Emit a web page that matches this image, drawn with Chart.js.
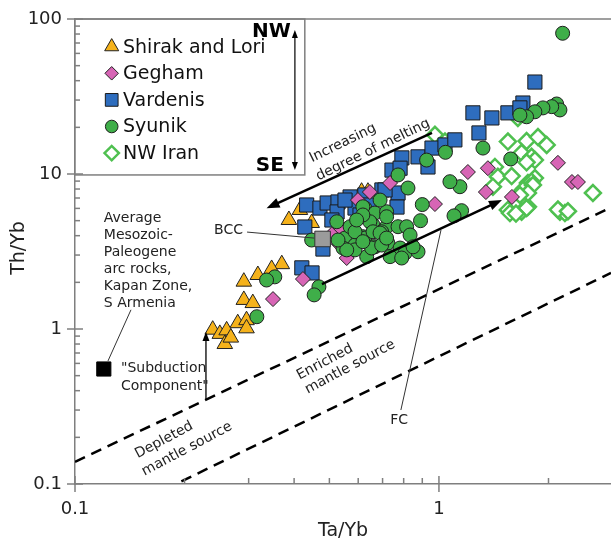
<!DOCTYPE html>
<html>
<head>
<meta charset="utf-8">
<script src="https://cdn.jsdelivr.net/npm/chart.js@4.4.0/dist/chart.umd.min.js"></script>
<style>
  html, body { margin: 0; padding: 0; background: #fff; }
  #wrap { width: 611px; height: 551px; }
</style>
</head>
<body>
<div id="wrap"><canvas id="chart" width="611" height="551"></canvas></div>
<script>
// [Ta/Yb, Th/Yb] pairs
const shirakLori = [[0.370,2.62],[0.347,2.44],[0.318,2.23],[0.291,2.02],[0.291,1.54],[0.308,1.47],[0.280,1.09],
  [0.296,1.14],[0.296,1.01],[0.239,0.99],[0.250,0.93],[0.261,0.98],[0.258,0.80],[0.268,0.88],[0.387,5.05],
  [0.447,4.83],[0.415,5.86],[0.613,7.69],[0.638,7.69]];

const gegham = [[0.350,1.56],[0.423,2.10],[0.558,2.87],[0.524,3.64],[0.512,4.16],[0.535,4.50],[0.599,6.79],
  [0.646,7.65],[0.734,8.75],[0.975,6.40],[1.201,10.3],[1.346,7.65],[1.363,10.9],[1.587,7.11],[2.123,11.8],
  [2.320,8.88],[2.409,8.88]];

const vardenis = [[0.433,6.31],[0.471,6.03],[0.493,6.50],[0.528,6.60],[0.570,7.11],[0.525,5.69],[0.428,4.55],
  [0.480,3.28],[0.508,5.05],[0.420,2.48],[0.448,2.30],[0.588,6.03],[0.743,10.6],[0.791,12.7],[0.772,7.54],
  [0.697,7.89],[0.782,10.9],[0.876,12.9],[0.933,11.1],[0.957,14.7],[1.039,15.4],[1.106,16.6],[1.240,24.8],
  [1.288,18.4],[1.835,39.2],[1.398,23.0],[1.547,24.8],[1.701,28.7],[1.669,26.7],[0.767,6.12],[0.711,7.89],
  [0.552,6.79],[0.626,7.32],[0.646,6.31],[0.607,5.44]];

const syunik = [[2.187,80.9],[2.106,28.3],[2.150,25.9],[2.041,27.2],[1.931,26.7],[1.835,25.2],[1.741,23.4],
  [1.669,24.0],[1.575,12.5],[1.321,14.7],[1.142,8.28],[1.072,8.92],[1.154,5.80],[1.100,5.37],[0.900,6.35],
  [1.042,13.8],[0.925,12.3],[0.772,9.86],[0.822,8.12],[0.890,5.00],
  [0.626,6.03],[0.667,5.60],[0.718,5.71],[0.689,6.79],[0.659,4.69],[0.718,4.57],[0.772,4.57],[0.696,4.24],
  [0.815,4.57],[0.833,4.04],[0.618,3.94],[0.667,3.39],[0.724,3.59],[0.782,3.33],[0.807,3.09],[0.876,3.15],
  [0.734,2.93],[0.633,2.93],[0.524,4.92],[0.618,6.15],[0.552,3.86],[0.588,3.48],[0.626,3.86],[0.545,3.33],
  [0.588,3.24],[0.447,3.75],[0.468,1.87],[0.454,1.66],[0.354,2.17],[0.336,2.07],[0.646,4.92],[0.570,4.57],
  [0.659,4.24],[0.659,3.39],[0.588,4.24],[0.618,5.44],[0.594,5.05],[0.689,4.16],[0.718,5.30],[0.558,3.24],
  [0.653,3.33],[0.696,3.48],[0.790,2.87],[0.849,3.39],[0.618,3.66],[0.528,3.75],[0.718,3.86],[0.316,1.20]];

const nwIran = [[0.975,17.9],[1.039,16.2],[1.648,23.0],[1.547,16.2],[1.741,16.3],[1.871,17.3],[1.977,15.4],
  [1.687,13.7],[1.797,12.9],[1.835,12.3],[1.741,11.9],[1.425,11.1],[1.452,9.6],[1.584,9.7],[1.756,8.75],
  [1.723,8.12],[1.835,9.42],[1.797,8.92],[1.778,8.28],[2.649,7.54],[1.547,5.86],[1.567,5.60],[1.687,5.71],
  [1.756,6.15],[1.741,6.03],[2.150,5.71],[2.219,5.60],[1.701,7.89],[1.812,8.49],[1.756,7.54],[1.669,7.32],
  [1.628,5.56],[2.123,5.90],[2.262,5.75],[1.407,8.28]];

const bcc = [[0.479,3.81]];
const subduction = [[0.120,0.552]];

// mantle array boundaries (dashed)
const depletedLine = [[0.1,0.139],[2.97,6.08]];
const enrichedLine = [[0.196,0.104],[2.97,2.30]];

const xTickLabels = [0.1, 1];
const yTickLabels = [0.1, 1, 10, 100];

const toXY = arr => arr.map(p => ({ x: p[0], y: p[1] }));

const FONT = "'DejaVu Sans', Verdana, sans-serif";
const AXIS_GRAY = '#7f7f7f';

const series = [
  { label: 'Shirak and Lori', data: shirakLori, style: 'triangle', radius: 9, fill: '#F5B21B', stroke: '#222', width: 1, order: 4 },
  { label: 'Gegham', data: gegham, style: 'rectRot', radius: 7.5, fill: '#D765B5', stroke: '#222', width: 1, order: 2 },
  { label: 'Vardenis', data: vardenis, style: 'rect', radius: 10, fill: '#2E6DBE', stroke: '#1a1a1a', width: 1, order: 3 },
  { label: 'Syunik', data: syunik, style: 'circle', radius: 7, fill: '#3FAE49', stroke: '#1f1f1f', width: 1, order: 1 },
  { label: 'NW Iran', data: nwIran, style: 'rectRot', radius: 8, fill: '#ffffff', stroke: '#4FC050', width: 2.5, order: 5 }
];

const datasets = series.map(s => ({
  label: s.label,
  data: toXY(s.data),
  pointStyle: s.style,
  pointRadius: s.radius,
  backgroundColor: s.fill,
  borderColor: s.stroke,
  borderWidth: s.width,
  order: s.order
}));

datasets.push({ label: 'BCC', data: toXY(bcc), pointStyle: 'rect', pointRadius: 11, backgroundColor: '#9b9b9b', borderColor: '#333', borderWidth: 1, order: 0 });
datasets.push({ label: 'Subduction component', data: toXY(subduction), pointStyle: 'rect', pointRadius: 10, backgroundColor: '#000', borderColor: '#000', borderWidth: 1, order: 0 });

[depletedLine, enrichedLine].forEach(line => {
  datasets.push({ type: 'line', data: toXY(line), showLine: true, borderColor: '#000', borderWidth: 2.5,
    borderDash: [11, 7], pointRadius: 0, fill: false, order: 9 });
});

function arrow(ctx, x1, y1, x2, y2, lw, head, half) {
  const ang = Math.atan2(y2 - y1, x2 - x1);
  ctx.lineWidth = lw;
  ctx.beginPath();
  ctx.moveTo(x1, y1);
  ctx.lineTo(x2 - Math.cos(ang) * head * 0.8, y2 - Math.sin(ang) * head * 0.8);
  ctx.stroke();
  ctx.beginPath();
  ctx.moveTo(x2, y2);
  ctx.lineTo(x2 - Math.cos(ang) * head - Math.sin(ang) * half, y2 - Math.sin(ang) * head + Math.cos(ang) * half);
  ctx.lineTo(x2 - Math.cos(ang) * head + Math.sin(ang) * half, y2 - Math.sin(ang) * head - Math.cos(ang) * half);
  ctx.closePath();
  ctx.fill();
}

function rotText(ctx, text, x, y, deg) {
  ctx.save();
  ctx.translate(x, y);
  ctx.rotate(deg * Math.PI / 180);
  ctx.fillText(text, 0, 0);
  ctx.restore();
}

const decorations = {
  id: 'decorations',
  afterDatasetsDraw(chart) {
    const { ctx, chartArea: a, scales: { x: xs, y: ys } } = chart;
    const px = v => xs.getPixelForValue(v);
    const py = v => ys.getPixelForValue(v);
    ctx.save();
    ctx.strokeStyle = '#000';
    ctx.fillStyle = '#000';

    // FC arrow and melting arrow
    arrow(ctx, px(0.477), py(1.95), px(1.49), py(6.79), 2.5, 13, 5);
    arrow(ctx, px(0.957), py(18.4), px(0.336), py(6.01), 2.5, 13, 5);
    // subduction component shift
    arrow(ctx, px(0.229), py(0.353), px(0.229), py(0.957), 1.3, 9, 3.5);

    // leader lines
    ctx.lineWidth = 1;
    ctx.strokeStyle = '#333';
    [[0.786, 0.30, 1.013, 4.35], [0.297, 4.22, 0.454, 3.86], [0.1425, 1.33, 0.1232, 0.622]].forEach(l => {
      ctx.beginPath();
      ctx.moveTo(px(l[0]), py(l[1]));
      ctx.lineTo(px(l[2]), py(l[3]));
      ctx.stroke();
    });

    // text annotations
    ctx.fillStyle = '#222';
    ctx.font = '14px ' + FONT;
    ctx.textBaseline = 'middle';
    ctx.textAlign = 'left';
    ['Average', 'Mesozoic-', 'Paleogene', 'arc rocks,', 'Kapan Zone,', 'S Armenia'].forEach((t, i) => {
      ctx.fillText(t, px(0.120), py(5.2) + i * 17);
    });
    ctx.fillText('"Subduction', px(0.1338), py(0.560));
    ctx.fillText('Component"', px(0.1338), py(0.429));
    ctx.textAlign = 'right';
    ctx.fillText('BCC', px(0.2894), py(4.35));
    ctx.textAlign = 'center';
    ctx.fillText('FC', px(0.777), py(0.259));
    rotText(ctx, 'Increasing', px(0.545), py(15.8), -26);
    rotText(ctx, 'degree of melting', px(0.659), py(14.3), -26);
    rotText(ctx, 'Depleted', px(0.1757), py(0.192), -28);
    rotText(ctx, 'mantle source', px(0.2032), py(0.168), -28);
    rotText(ctx, 'Enriched', px(0.486), py(0.612), -28);
    rotText(ctx, 'mantle source', px(0.570), py(0.569), -28);

    // legend box
    const boxR = px(0.428), boxB = py(9.86);
    ctx.fillStyle = '#fff';
    ctx.fillRect(a.left, a.top, boxR - a.left, boxB - a.top);
    ctx.strokeStyle = AXIS_GRAY;
    ctx.lineWidth = 1.5;
    ctx.strokeRect(a.left, a.top, boxR - a.left, boxB - a.top);
    series.forEach((s, i) => {
      const yy = a.top + 27.7 + i * 26.6;
      ctx.fillStyle = s.fill;
      ctx.strokeStyle = s.stroke;
      ctx.lineWidth = s.width;
      Chart.helpers.drawPoint(ctx, { pointStyle: s.style, rotation: 0, radius: s.radius * 0.9, borderWidth: s.width },
        a.left + 36.7, yy);
      ctx.fillStyle = '#111';
      ctx.font = '19px ' + FONT;
      ctx.textAlign = 'left';
      ctx.fillText(s.label, a.left + 48, yy + 1);
    });
    // NW - SE direction
    ctx.fillStyle = '#000';
    ctx.strokeStyle = '#000';
    const ax = px(0.402);
    arrow(ctx, ax, (py(84.9) + py(10.6)) / 2, ax, py(84.9), 1.2, 8, 3);
    arrow(ctx, ax, (py(84.9) + py(10.6)) / 2, ax, py(10.6), 1.2, 8, 3);
    ctx.font = 'bold 20px ' + FONT;
    ctx.textAlign = 'right';
    ctx.fillText('NW', ax - 4, py(84.9) + 2);
    ctx.fillText('SE', ax - 11, py(10.6) - 4);
    ctx.restore();
  },
  afterDraw(chart) {
    const { ctx, chartArea: a, scales: { x: xs, y: ys } } = chart;
    ctx.save();
    ctx.strokeStyle = AXIS_GRAY;
    ctx.lineWidth = 1.5;
    // top frame line
    ctx.beginPath();
    ctx.moveTo(a.left, a.top);
    ctx.lineTo(a.right, a.top);
    ctx.stroke();
    // y ticks
    for (let d = 0.1; d <= 100.001; d *= 10) {
      const yy = ys.getPixelForValue(d);
      ctx.beginPath(); ctx.moveTo(a.left - 8, yy); ctx.lineTo(a.left + 8, yy); ctx.stroke();
      if (d < 99) {
        for (let m = 2; m <= 9; m++) {
          const ym = ys.getPixelForValue(d * m);
          ctx.beginPath(); ctx.moveTo(a.left, ym); ctx.lineTo(a.left + 5, ym); ctx.stroke();
        }
      }
    }
    // x ticks
    for (let d = 0.1; d <= 1.001; d *= 10) {
      const xx = xs.getPixelForValue(d);
      ctx.beginPath(); ctx.moveTo(xx, a.bottom - 8); ctx.lineTo(xx, a.bottom + 8); ctx.stroke();
      for (let m = 2; m <= 9; m++) {
        const v = d * m;
        if (v > xs.max) break;
        const xm = xs.getPixelForValue(v);
        ctx.beginPath(); ctx.moveTo(xm, a.bottom); ctx.lineTo(xm, a.bottom - 6); ctx.stroke();
      }
    }
    // tick labels and titles
    ctx.fillStyle = '#222';
    ctx.font = '18px ' + FONT;
    ctx.textBaseline = 'middle';
    ctx.textAlign = 'right';
    yTickLabels.forEach(v => ctx.fillText(String(v), a.left - 13, ys.getPixelForValue(v)));
    ctx.textAlign = 'center';
    xTickLabels.forEach(v => ctx.fillText(String(v), xs.getPixelForValue(v), a.bottom + 25));
    ctx.font = '19px ' + FONT;
    ctx.fillText('Ta/Yb', (a.left + a.right) / 2, a.bottom + 47);
    rotText(ctx, 'Th/Yb', 19, 248, -90);
    ctx.restore();
  }
};

new Chart(document.getElementById('chart'), {
  type: 'scatter',
  data: { datasets: datasets },
  options: {
    responsive: false,
    animation: false,
    devicePixelRatio: 1,
    layout: { autoPadding: false, padding: { top: 19, right: 0, left: 0, bottom: 0 } },
    plugins: { legend: { display: false }, tooltip: { enabled: false } },
    scales: {
      x: {
        type: 'logarithmic', min: 0.1, max: 2.97,
        grid: { display: false },
        border: { display: true, color: AXIS_GRAY, width: 1.5 },
        ticks: { display: false },
        afterFit: s => { s.height = 67; }
      },
      y: {
        type: 'logarithmic', min: 0.1, max: 100,
        grid: { display: false },
        border: { display: true, color: AXIS_GRAY, width: 1.5 },
        ticks: { display: false },
        afterFit: s => { s.width = 75; }
      }
    }
  },
  plugins: [decorations]
});
</script>
</body>
</html>
